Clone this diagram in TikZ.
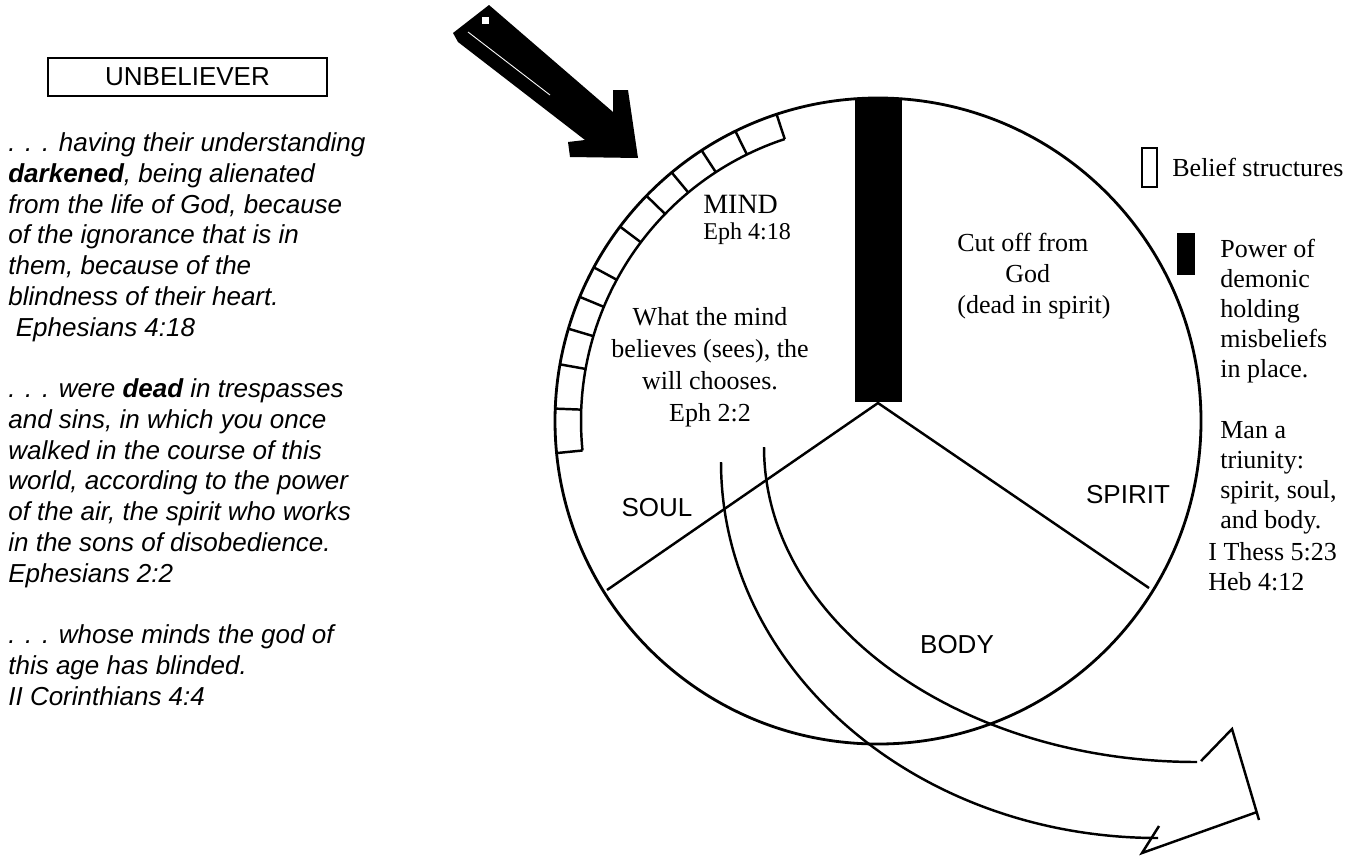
\documentclass[tikz,border=0pt]{standalone}
\usepackage{fontspec}
\setmainfont{Liberation Serif}
\setsansfont{Liberation Sans}
\usetikzlibrary{calc,
	positioning}
\tikzstyle{lbl}=[inner sep=0, font=\fontsize{14.8}{17}\selectfont]
\tikzstyle{slbl}=[inner sep=0, font=\sffamily\fontsize{14.8}{17}\selectfont]
\tikzstyle{verse}=[inner sep=0, align=left, anchor=west,
		font=\sffamily\itshape\fontsize{14.8}{17.5}\selectfont]
\tikzstyle{ln}=[line width=1.4pt]
\tikzstyle{box}=[draw, line width=0.9pt]

\begin{document}
\begin{tikzpicture}[x=0.02cm, y=-0.02cm]
    \useasboundingbox (0,0) rectangle (1364,856);
    % left column
    \node[slbl, box, minimum width=5.58cm, minimum height=0.76cm] (title) at (187.5,77) {UNBELIEVER};
    \node[verse] (verses) at (8,419) {. . . having their understanding\\
        \textbf{darkened}, being alienated\\
        from the life of God, because\\
        of the ignorance that is in\\
        them, because of the\\
        blindness of their heart.\\
        \hspace*{0.15cm}Ephesians 4:18\\[17.5pt]
        . . . were \textbf{dead} in trespasses\\
        and sins, in which you once\\
        walked in the course of this\\
        world, according to the power\\
        of the air, the spirit who works\\
        in the sons of disobedience.\\
        Ephesians 2:2\\[17.5pt]
        . . . whose minds the god of\\
        this age has blinded.\\
        II Corinthians 4:4};
    % the man
    \coordinate (c) at (878,421);
    \coordinate (v) at (878,403);
    \draw[ln, line width=1.6pt] (c) circle[radius=323];
    \fill (855,98) rectangle (902,402);
    \draw[ln] (607,590) -- (v) -- (1149,588);
    % belief structures
    \draw[ln] (c) ++(-108.3:297) arc[start angle=-108.3, end angle=-185.7, radius=297];
    \foreach \a in {108.3,116.2,123.1,129.7,135.8,143,151.6,157.4,163.4,169.9,177.8,185.7}
        \draw[ln] (c) ++(-\a:297) -- ++(-\a:26);
    % attack
    \fill (453,33) -- (489,5) -- (613,112) -- (613,90) -- (628,90) -- (638,158) -- (570,157)
        -- (568,142) -- (585,140) -- (458,42) -- cycle;
    \draw[white, line width=0.5pt] (468,32) -- (550,95);
    \fill[white] (482,17) rectangle (489,24);
    % choice
    \draw[ln] (721,462) arc[start angle=180, end angle=90, x radius=437, y radius=376];
    \draw[ln] (764,447) arc[start angle=180, end angle=90, x radius=433, y radius=315];
    \draw[ln] (1201,761) -- (1232,729) -- (1259,820);
    \draw[ln] (1257,812) -- (1142,853) -- (1159,826);
    % labels
    \node[lbl, anchor=west, font=\fontsize{15.9}{17}\selectfont] (mind) at (703,204) {MIND};
    \node[lbl, anchor=west, font=\fontsize{13.7}{16}\selectfont] (mindref) at (703,234) {Eph 4:18};
    \node[lbl, align=center, font=\fontsize{14.8}{18.2}\selectfont] (will) at (710,367) {What the mind\\
        believes (sees), the\\will chooses.\\Eph 2:2};
    \node[lbl, align=left, anchor=west, font=\fontsize{14.8}{17.6}\selectfont] (spiritnote) at (957,276) {Cut off from\\
        \hspace*{0.96cm}God\\(dead in spirit)};
    \node[slbl] (soul) at (657,508) {SOUL};
    \node[slbl] (spirit) at (1128,495) {SPIRIT};
    \node[slbl] (body) at (957,645) {BODY};
    % legend
    \draw[box] (1142,148) rectangle (1157,187);
    \node[lbl, anchor=west] (beliefs) at (1172,167) {Belief structures};
    \fill (1177,233) rectangle (1195,275);
    \node[lbl, align=left, anchor=west, font=\fontsize{14.8}{17.1}\selectfont] (demonic) at (1220,311) {Power of\\
        demonic\\holding\\misbeliefs\\in place.};
    \node[lbl, align=left, anchor=west, font=\fontsize{14.8}{17.1}\selectfont] (triunity) at (1220,478) {Man a\\
        triunity:\\spirit, soul,\\and body.};
    \node[lbl, align=left, anchor=west, font=\fontsize{14.8}{17.1}\selectfont] (refs) at (1208,567) {I Thess 5:23\\
        Heb 4:12};
\end{tikzpicture}
\end{document}
